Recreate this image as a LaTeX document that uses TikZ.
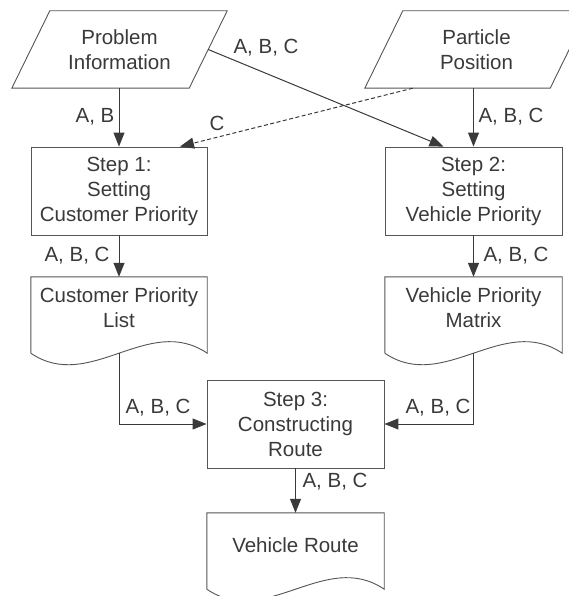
\documentclass[tikz,border=0pt]{standalone}
\usepackage{fontspec}
\setmainfont{Liberation Sans}
\usetikzlibrary{arrows.meta,calc}
\definecolor{ink}{HTML}{3A3A3A}
\definecolor{edge}{HTML}{555555}
\tikzset{
  holder/.style={rectangle,draw=none,inner sep=0pt,align=center,text=ink,
    font=\fontsize{20.5}{25}\selectfont},
  boxnode/.style={holder,draw=edge,line width=0.9pt},
  outline/.style={draw=edge,line width=0.9pt},
  lbl/.style={inner sep=0pt,text=ink,font=\fontsize{20.5}{24}\selectfont},
  arr/.style={draw=ink,line width=1pt,-{Triangle[length=14pt,width=11pt]}},
  darr/.style={arr,dash pattern=on 4pt off 2.5pt}
}
\begin{document}
\begin{tikzpicture}[x=1pt,y=-1pt]
\useasboundingbox[fill=white] (0,0) rectangle (569,596);
% input parallelograms
\node[holder,minimum width=215pt,minimum height=77pt] (pi) at (119.5,49.5) {Problem\\Information};
\draw[outline] ($(pi.north west)+(38,0)$) -- (pi.north east) -- ($(pi.south east)-(38,0)$) -- (pi.south west) -- cycle;
\node[holder,minimum width=223pt,minimum height=77pt] (pp) at (476.5,49.5) {Particle\\Position};
\draw[outline] ($(pp.north west)+(38,0)$) -- (pp.north east) -- ($(pp.south east)-(38,0)$) -- (pp.south west) -- cycle;
% process boxes
\node[boxnode,minimum width=176pt,minimum height=88pt] (s1) at (119,191) {Step 1:\\Setting\\Customer Priority};
\node[boxnode,minimum width=177pt,minimum height=88pt] (s2) at (473.5,191) {Step 2:\\Setting\\Vehicle Priority};
\node[boxnode,minimum width=177pt,minimum height=88pt] (s3) at (295.5,424) {Step 3:\\Constructing\\Route};
% documents
\node[holder,minimum width=176pt,minimum height=76pt] (lst) at (119,315) {};
\node[holder] (lsttext) at (119,308) {Customer Priority\\List};
\draw[outline] (lst.south west) -- (lst.north west) -- (lst.north east) -- (lst.south east)
  .. controls ($(lst.south east)-(59,40)$) and ($(lst.south west)+(59,40)$) .. (lst.south west);
\node[holder,minimum width=177pt,minimum height=76pt] (mat) at (473.5,315) {};
\node[holder] (mattext) at (473.5,308) {Vehicle Priority\\Matrix};
\draw[outline] (mat.south west) -- (mat.north west) -- (mat.north east) -- (mat.south east)
  .. controls ($(mat.south east)-(59,40)$) and ($(mat.south west)+(59,40)$) .. (mat.south west);
\node[holder,minimum width=177pt,minimum height=76pt] (vr) at (295.5,551) {};
\node[holder] (vrtext) at (295.5,545) {Vehicle Route};
\draw[outline] (vr.south west) -- (vr.north west) -- (vr.north east) -- (vr.south east)
  .. controls ($(vr.south east)-(59,40)$) and ($(vr.south west)+(59,40)$) .. (vr.south west);
% helper coordinates
\coordinate (pie) at ($(pi.east)-(19,0)$);
\coordinate (s2in) at ($(s2.north)-(30,0)$);
\coordinate (ppout) at ($(pp.south west)+(48,0)$);
\coordinate (s1in) at ($(s1.north)+(61,0)$);
% connectors
\draw[arr] (pi.south -| s1.north) -- (s1.north);
\draw[arr] (pie) -- (s2in);
\draw[darr] (ppout) -- (s1in);
\draw[arr] (pp.south -| s2.north) -- (s2.north);
\draw[arr] (s1.south) -- (lst.north);
\draw[arr] (s2.south) -- (mat.north);
\draw[arr] (lst.south) |- (s3.west);
\draw[arr] (mat.south) |- (s3.east);
\draw[arr] (s3.south) -- (vr.north);
% labels
\node[lbl] (l1) at (95,117) {A, B};
\node[lbl] (l2) at (266,48) {A, B, C};
\node[lbl] (l3) at (217,123) {C};
\node[lbl] (l4) at (511,117) {A, B, C};
\node[lbl] (l5) at (77,256) {A, B, C};
\node[lbl] (l6) at (516,256) {A, B, C};
\node[lbl] (l7) at (158,408) {A, B, C};
\node[lbl] (l8) at (438,408) {A, B, C};
\node[lbl] (l9) at (335,482) {A, B, C};
\end{tikzpicture}
\end{document}
